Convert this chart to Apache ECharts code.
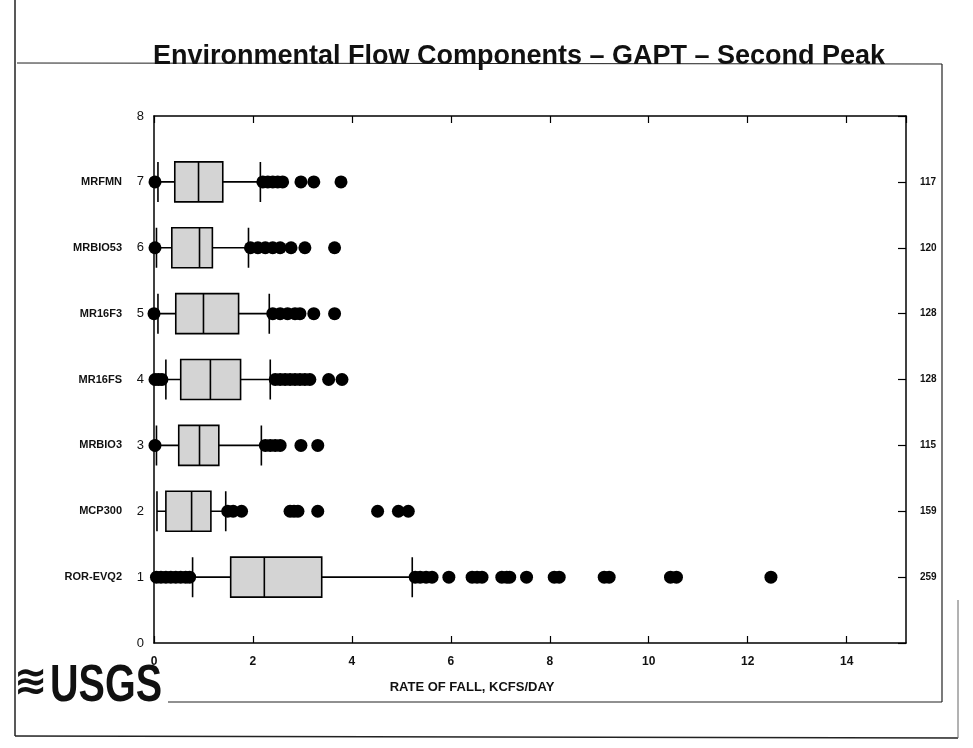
<!DOCTYPE html>
<html>
<head>
<meta charset="utf-8">
<script src="https://cdn.jsdelivr.net/npm/echarts@6/dist/echarts.min.js"></script>
<style>
html,body{margin:0;padding:0;background:#fff;}
#chart{width:973px;height:748px;}
</style>
</head>
<body>
<div id="chart"></div>
<script>
// ---- data ----
var yTicks = ['0','1','2','3','4','5','6','7','8'];
var rowNames = ['', 'ROR-EVQ2', 'MCP300', 'MRBIO3', 'MR16FS', 'MR16F3', 'MRBIO53', 'MRFMN', ''];
var counts = ['', '259', '159', '115', '128', '128', '120', '117', ''];
var xTickLabels = ['0','2','4','6','8','10','12','14'];

// [lower whisker, Q1, median, Q3, upper whisker] for rows 1..7
var box1 = [0.78, 1.55, 2.23, 3.39, 5.22];
var box2 = [0.06, 0.24, 0.76, 1.15, 1.45];
var box3 = [0.05, 0.50, 0.92, 1.31, 2.17];
var box4 = [0.24, 0.54, 1.14, 1.75, 2.35];
var box5 = [0.08, 0.44, 1.00, 1.71, 2.33];
var box6 = [0.05, 0.36, 0.92, 1.18, 1.91];
var box7 = [0.08, 0.42, 0.90, 1.39, 2.15];

// outliers for rows 1..7
var out1 = [0.05, 0.14, 0.24, 0.34, 0.44, 0.54, 0.64, 0.72, 5.28, 5.38, 5.50, 5.62, 5.96, 6.43, 6.53, 6.63, 7.03, 7.13, 7.19, 7.53, 8.09, 8.19, 9.10, 9.20, 10.44, 10.56, 12.47];
var out2 = [1.49, 1.60, 1.77, 2.75, 2.83, 2.91, 3.31, 4.52, 4.94, 5.14];
var out3 = [0.02, 2.25, 2.35, 2.45, 2.55, 2.97, 3.31];
var out4 = [0.02, 0.09, 0.16, 2.45, 2.55, 2.65, 2.75, 2.85, 2.95, 3.05, 3.15, 3.53, 3.80];
var out5 = [0.00, 2.40, 2.55, 2.70, 2.85, 2.95, 3.23, 3.65];
var out6 = [0.02, 1.95, 2.10, 2.25, 2.40, 2.55, 2.77, 3.05, 3.65];
var out7 = [0.02, 2.20, 2.30, 2.40, 2.50, 2.60, 2.97, 3.23, 3.78];

// ---- build series data ----
var boxes = [box1, box2, box3, box4, box5, box6, box7];
var outs = [out1, out2, out3, out4, out5, out6, out7];
var boxData = boxes.map(function (b, i) { return [i + 1].concat(b); });
var outData = [];
outs.forEach(function (arr, i) {
  arr.forEach(function (v) { outData.push([v, i + 1]); });
});

var FONT = '"Liberation Sans", Arial, Helvetica, sans-serif';
var chart = echarts.init(document.getElementById('chart'), null, {renderer: 'canvas'});

chart.setOption({
  animation: false,
  backgroundColor: '#ffffff',
  title: {
    text: 'Environmental Flow Components – GAPT – Second Peak',
    left: 148,
    top: 38,
    textStyle: {fontFamily: FONT, fontSize: 27, fontWeight: 'bold', color: '#111'}
  },
  grid: {left: 154, right: 67, top: 116, bottom: 105, containLabel: false},
  xAxis: [
    {
      type: 'value', min: 0, max: 15.2, interval: 2, position: 'bottom',
      name: 'RATE OF FALL, KCFS/DAY', nameLocation: 'middle', nameGap: 38,
      nameTextStyle: {fontFamily: FONT, fontSize: 13, fontWeight: 'bold', color: '#111', padding: [0, 116, 0, 0]},
      axisLine: {show: true, lineStyle: {color: '#000', width: 1.5}},
      axisTick: {show: true, inside: true, length: 7, lineStyle: {color: '#000', width: 1.2}},
      axisLabel: {show: true, margin: 13, fontFamily: FONT, fontSize: 12, fontWeight: 'bold', color: '#111', showMaxLabel: false,
        formatter: function (v) { var s = String(v); return xTickLabels.indexOf(s) >= 0 ? s : ''; }},
      splitLine: {show: false}
    },
    {
      type: 'value', min: 0, max: 15.2, interval: 2, position: 'top',
      axisLine: {show: true, lineStyle: {color: '#000', width: 1.5}},
      axisTick: {show: true, inside: true, length: 7, lineStyle: {color: '#000', width: 1.2}},
      axisLabel: {show: false},
      splitLine: {show: false}
    }
  ],
  yAxis: [
    {
      type: 'category', data: yTicks, boundaryGap: false, position: 'left',
      axisLine: {show: true, lineStyle: {color: '#000', width: 1.5}},
      axisTick: {show: false},
      axisLabel: {show: true, interval: 0, margin: 10, fontFamily: FONT, fontSize: 13, color: '#111'},
      splitLine: {show: false}
    },
    {
      type: 'category', data: rowNames, boundaryGap: false, position: 'left', offset: 0,
      axisLine: {show: false},
      axisTick: {show: false},
      axisLabel: {show: true, interval: 0, margin: 32, fontFamily: FONT, fontSize: 11, fontWeight: 'bold', color: '#111'},
      splitLine: {show: false}
    },
    {
      type: 'category', data: counts, boundaryGap: false, position: 'right',
      axisLine: {show: true, lineStyle: {color: '#000', width: 1.5}},
      axisTick: {show: true, inside: true, length: 8, interval: 0, lineStyle: {color: '#000', width: 1.2}},
      axisLabel: {show: true, interval: 0, margin: 14, fontFamily: FONT, fontSize: 10, fontWeight: 'bold', color: '#111'},
      splitLine: {show: false}
    }
  ],
  series: [
    {
      type: 'boxplot',
      xAxisIndex: 0, yAxisIndex: 0,
      boxWidth: [40, 40],
      encode: {y: 0, x: [1, 2, 3, 4, 5]},
      data: boxData,
      itemStyle: {color: '#d4d4d4', borderColor: '#000', borderWidth: 1.6},
      z: 2
    },
    {
      type: 'scatter',
      xAxisIndex: 0, yAxisIndex: 0,
      symbol: 'circle', symbolSize: 13,
      itemStyle: {color: '#000', opacity: 1},
      data: outData,
      z: 3
    }
  ],
  graphic: [
    {type: 'line', shape: {x1: 17, y1: 63, x2: 942, y2: 64}, style: {stroke: '#222', lineWidth: 1.2}, z: -1},
    {type: 'line', shape: {x1: 942, y1: 64, x2: 942, y2: 702}, style: {stroke: '#222', lineWidth: 1.2}, z: -1},
    {type: 'line', shape: {x1: 168, y1: 702, x2: 942, y2: 702}, style: {stroke: '#222', lineWidth: 1.2}, z: -1},
    {type: 'line', shape: {x1: 15, y1: 0, x2: 15, y2: 736}, style: {stroke: '#222', lineWidth: 1.5}, z: -1},
    {type: 'line', shape: {x1: 15, y1: 736, x2: 958, y2: 738}, style: {stroke: '#222', lineWidth: 1.5}, z: -1},
    {type: 'line', shape: {x1: 958, y1: 600, x2: 958, y2: 738}, style: {stroke: '#666', lineWidth: 1}, z: -1},
    {type: 'text', x: 14, y: 664, style: {text: '≋', font: 'bold 40px "DejaVu Sans", sans-serif', fill: '#111'}},
    {type: 'text', x: 50, y: 661, scaleX: 0.76, style: {text: 'USGS', font: 'bold 52px "Liberation Sans", sans-serif', fill: '#111'}}
  ]
});
</script>
</body>
</html>
